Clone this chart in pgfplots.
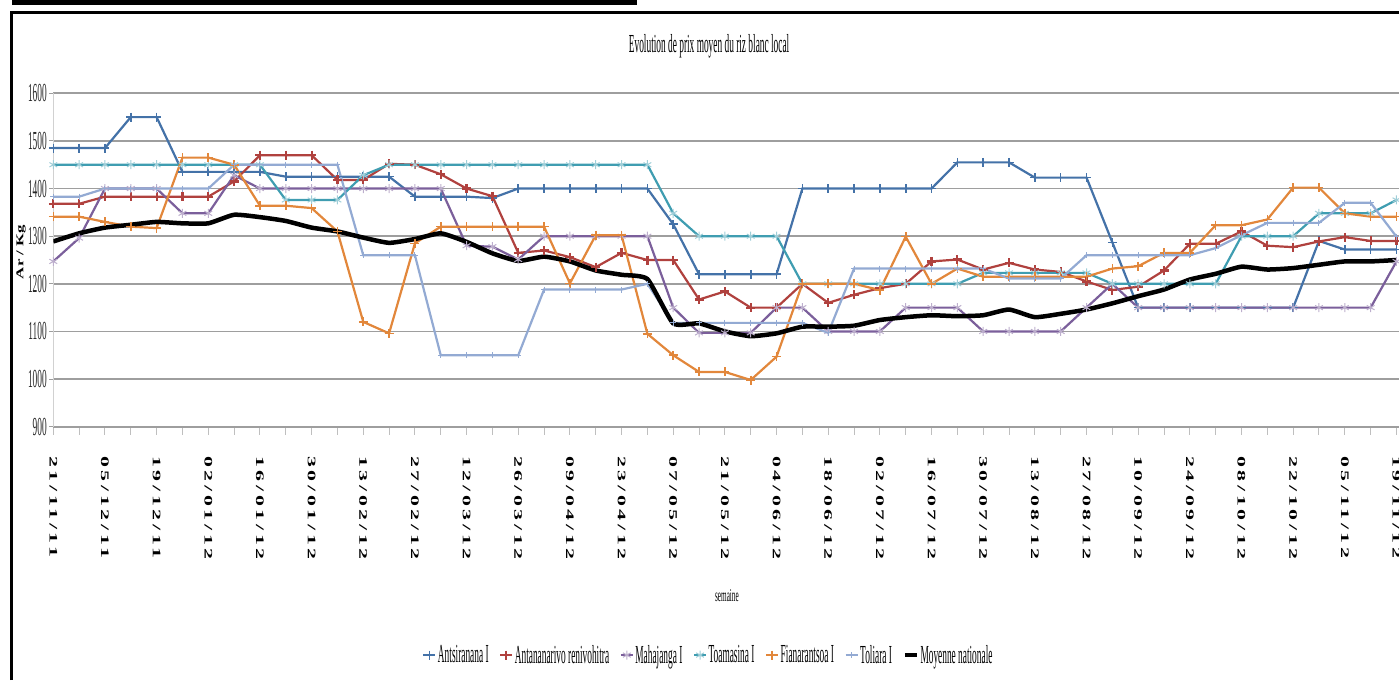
\documentclass[border=0pt]{standalone}
\usepackage{fontspec}
\setmainfont{Liberation Serif}
\newfontfamily\condfont{Liberation Serif}[FakeStretch=0.36]
\newfontfamily\semfont{Liberation Serif}[FakeStretch=0.4]
\newfontfamily\wideb{Liberation Serif}[FakeStretch=1.9, LetterSpace=32]
\newfontfamily\ylfont{Liberation Serif}[FakeStretch=1.6]
\usepackage{pgfplots}
\usepackage{pgfplotstable}
\pgfplotsset{compat=1.18}
\definecolor{cAnt}{HTML}{4472A8}
\definecolor{cTana}{HTML}{B0413E}
\definecolor{cMaha}{HTML}{7B5F9B}
\definecolor{cToam}{HTML}{3F9DB1}
\definecolor{cFian}{HTML}{E2873B}
\definecolor{cToli}{HTML}{93AAD3}
\pgfplotstableread{
w ant tana maha toam fian toli moy
0 1485 1368 1247 1450 1341 1383 1289
1 1485 1368 1296 1450 1341 1383 1306
2 1485 1383 1400 1450 1330 1400 1318
3 1550 1383 1400 1450 1320 1400 1324
4 1550 1383 1400 1450 1317 1400 1330
5 1435 1383 1348 1450 1465 1400 1327
6 1435 1383 1348 1450 1465 1400 1327
7 1435 1415 1428 1450 1450 1450 1345
8 1435 1470 1400 1450 1364 1450 1340
9 1425 1470 1400 1376 1364 1450 1332
10 1425 1470 1400 1376 1359 1450 1318
11 1425 1418 1400 1376 1310 1450 1310
12 1425 1418 1400 1428 1120 1260 1297
13 1425 1452 1400 1450 1096 1260 1286
14 1383 1450 1400 1450 1285 1260 1294
15 1383 1430 1400 1450 1320 1050 1306
16 1383 1400 1280 1450 1320 1050 1288
17 1380 1384 1278 1450 1320 1050 1264
18 1400 1265 1251 1450 1320 1050 1248
19 1400 1270 1300 1450 1320 1188 1257
20 1400 1256 1300 1450 1201 1188 1247
21 1400 1235 1300 1450 1302 1188 1228
22 1400 1265 1300 1450 1302 1188 1219
23 1400 1250 1300 1450 1095 1200 1210
24 1325 1250 1150 1348 1050 1118 1117
25 1220 1167 1097 1300 1015 1118 1117
26 1220 1184 1097 1300 1015 1118 1100
27 1220 1150 1097 1300 998 1118 1090
28 1220 1150 1150 1300 1047 1118 1096
29 1400 1200 1150 1200 1200 1118 1110
30 1400 1160 1100 1200 1200 1097 1110
31 1400 1177 1100 1200 1200 1232 1112
32 1400 1191 1100 1200 1187 1232 1124
33 1400 1200 1150 1200 1299 1232 1130
34 1400 1247 1150 1200 1200 1232 1134
35 1455 1251 1150 1200 1232 1232 1132
36 1455 1230 1100 1223 1215 1232 1134
37 1455 1244 1100 1223 1215 1211 1146
38 1423 1230 1100 1223 1215 1211 1130
39 1423 1225 1100 1223 1215 1211 1137
40 1423 1205 1150 1223 1215 1260 1146
41 1287 1187 1200 1200 1232 1260 1159
42 1150 1194 1150 1200 1237 1260 1174
43 1150 1228 1150 1200 1265 1260 1188
44 1150 1284 1150 1200 1265 1260 1209
45 1150 1284 1150 1200 1323 1275 1221
46 1150 1310 1150 1300 1323 1302 1236
47 1150 1280 1150 1300 1335 1328 1230
48 1150 1277 1150 1300 1402 1328 1233
49 1290 1289 1150 1348 1402 1328 1240
50 1272 1298 1150 1348 1348 1370 1247
51 1272 1290 1150 1348 1341 1370 1247
52 1272 1290 1247 1376 1341 1299 1250
}\data
\begin{document}
\begin{tikzpicture}
\useasboundingbox (0,0) rectangle (1399pt,680pt);
\clip (0,0) rectangle (1399pt,680pt);
\fill[black] (12pt,675pt) rectangle (637pt,680pt);
\draw[black, line width=3pt] (11pt,0pt) -- (11pt,667pt) -- (1400pt,667pt);
\begin{axis}[
  scale only axis,
  width=1345.7pt, height=333.4pt,
  at={(53.3pt,253.3pt)}, anchor=south west,
  xmin=0, xmax=52.1, ymin=900, ymax=1600,
  axis x line*=bottom, axis y line*=left,
  x axis line style={draw=black!38, line width=1.8pt, -},
  y axis line style={draw=black!18, line width=1.2pt, -},
  ymajorgrids, grid style={draw=black!38, line width=1.8pt},
  ytick={900,1000,...,1600},
  xtick={0,2,...,52},
  minor xtick={1,3,...,51},
  xticklabels={21/11/11,05/12/11,19/12/11,02/01/12,16/01/12,30/01/12,13/02/12,27/02/12,12/03/12,26/03/12,09/04/12,23/04/12,07/05/12,21/05/12,04/06/12,18/06/12,02/07/12,16/07/12,30/07/12,13/08/12,27/08/12,10/09/12,24/09/12,08/10/12,22/10/12,05/11/12,19/11/12},
  tick align=outside,
  major tick length=8pt, minor tick length=8pt,
  tick style={draw=black!25, line width=1pt},
  ytick style={draw=black!38, /pgfplots/major tick length=4pt},
  /pgf/number format/1000 sep={},
  /pgf/number format/assume math mode=true,
  yticklabel style={font=\condfont\fontsize{26pt}{26pt}\selectfont, text=black!85, xshift=5pt},
  xticklabel shift=18pt,
  xticklabel style={font=\wideb\bfseries\fontsize{11.5pt}{11.5pt}\selectfont, rotate=-90, anchor=west},
  title={Evolution de prix moyen du riz blanc local},
  title style={at={(axis description cs:0.4873,1.124)}, anchor=center, font=\condfont\fontsize{26pt}{26pt}\selectfont},
  xlabel={semaine},
  xlabel style={at={(axis description cs:0.5006,-0.508)}, anchor=center, font=\semfont\fontsize{18pt}{18pt}\selectfont},
  ylabel={Ar / Kg},
  ylabel style={at={(axis description cs:-0.024,0.524)}, anchor=center, font=\ylfont\bfseries\fontsize{10.5pt}{10.5pt}\selectfont},
  legend columns=7,
  legend style={at={(axis description cs:0.4866,-0.685)}, anchor=center, draw=none, fill=none,
    font=\condfont\fontsize{26pt}{26pt}\selectfont,
    /tikz/every even column/.append style={column sep=9pt},
    nodes={inner xsep=1.5pt}},
  legend image code/.code={\draw[mark repeat=2,mark phase=2,#1] plot coordinates {(0pt,0pt) (6pt,0pt) (12pt,0pt)};},
  every axis plot/.append style={line width=2.2pt, mark size=4.5pt},
]
\addplot[color=cAnt, mark=+, mark options={line width=1.6pt}] table[x=w,y=ant]{\data};
\addlegendentry{Antsiranana I}
\addplot[color=cTana, mark=+, mark options={line width=2.2pt}] table[x=w,y=tana]{\data};
\addlegendentry{Antananarivo renivohitra}
\addplot[color=cMaha, mark=asterisk, mark options={line width=1pt, draw=cMaha!50}] table[x=w,y=maha]{\data};
\addlegendentry{Mahajanga I}
\addplot[color=cToam, mark=asterisk, mark options={line width=1pt, draw=cToam!50}] table[x=w,y=toam]{\data};
\addlegendentry{Toamasina I}
\addplot[color=cFian, mark=+, mark options={line width=1.6pt}] table[x=w,y=fian]{\data};
\addlegendentry{Fianarantsoa I}
\addplot[color=cToli, mark=+, mark options={line width=1pt, mark size=3pt}] table[x=w,y=toli]{\data};
\addlegendentry{Toliara I}
\addplot[color=black, line width=4.5pt, no marks, smooth, tension=0.3] table[x=w,y=moy]{\data};
\addlegendentry{Moyenne nationale}
\end{axis}
\end{tikzpicture}
\end{document}
